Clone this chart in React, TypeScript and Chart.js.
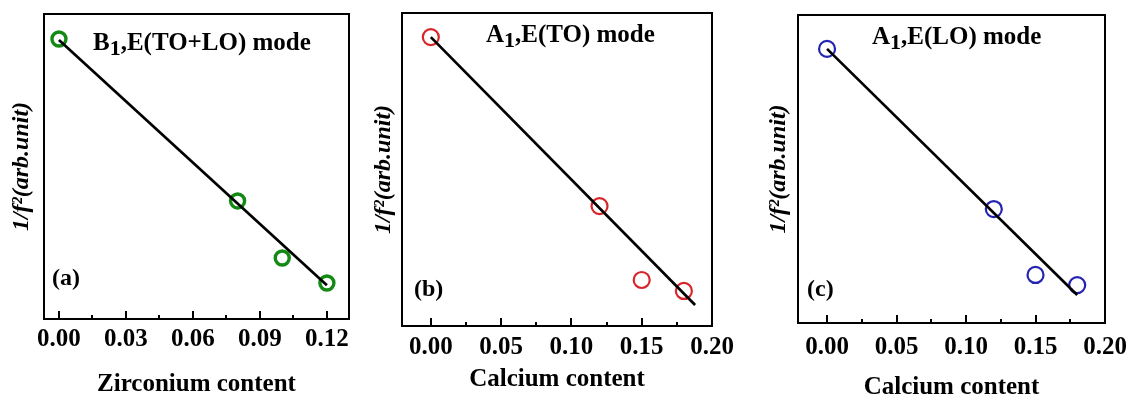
import React, { useEffect, useRef } from "react";
import { Chart, registerables } from "chart.js";

Chart.register(...registerables);

const W = 1131;
const H = 401;

// ---- data (1/f^2 in arbitrary units) ----
const zirconiumContent = [0, 0.08, 0.1, 0.12];
const panelAInvF2 = [0.918, 0.387, 0.2, 0.118];
const panelAFitX = [0, 0.12];
const panelAFitY = [0.915, 0.111];

const calciumContent = [0, 0.12, 0.15, 0.18];
const panelBInvF2 = [0.923, 0.383, 0.147, 0.112];
const panelBFitX = [0, 0.188];
const panelBFitY = [0.923, 0.067];

const panelCInvF2 = [0.89, 0.37, 0.156, 0.123];
const panelCFitX = [0, 0.18];
const panelCFitY = [0.89, 0.091];

// ---- tick labels ----
const zrMajorTicks = [0, 0.03, 0.06, 0.09, 0.12];
const zrMinorTicks = [0.015, 0.045, 0.075, 0.105];
const caMajorTicks = [0, 0.05, 0.1, 0.15, 0.2];
const caMinorTicks = [0.025, 0.075, 0.125, 0.175];

const SERIF = '"Liberation Serif", "Times New Roman", serif';

interface PanelCfg {
  id: string;
  x: number[];
  y: number[];
  fitX: number[];
  fitY: number[];
  major: number[];
  minor: number[];
  xMin: number;
  xMax: number;
  xTitle: string;
  modePrefix: string;
  modeSub: string;
  modeRest: string;
  letter: string;
  color: string;
  radius: number;
  borderW: number;
  box: { left: number; top: number; right: number; bottom: number };
  yTitleX: number;
  tickPad: number;
  titlePadBottom: number;
  modeDX: number;
  modeDY: number;
  letterDX: number;
  letterDY: number;
}

const panels: PanelCfg[] = [
  {
    id: "a",
    x: zirconiumContent,
    y: panelAInvF2,
    fitX: panelAFitX,
    fitY: panelAFitY,
    major: zrMajorTicks,
    minor: zrMinorTicks,
    xMin: -0.0067,
    xMax: 0.1299,
    xTitle: "Zirconium content",
    modePrefix: "B",
    modeSub: "1",
    modeRest: ",E(TO+LO) mode",
    letter: "(a)",
    color: "#138a13",
    radius: 7,
    borderW: 3.4,
    box: { left: 44, top: 14, right: 349, bottom: 319 },
    yTitleX: 22,
    tickPad: 6,
    titlePadBottom: 1,
    modeDX: 49,
    modeDY: 36,
    letterDX: 8,
    letterDY: 265,
  },
  {
    id: "b",
    x: calciumContent,
    y: panelBInvF2,
    fitX: panelBFitX,
    fitY: panelBFitY,
    major: caMajorTicks,
    minor: caMinorTicks,
    xMin: -0.0205,
    xMax: 0.2,
    xTitle: "Calcium content",
    modePrefix: "A",
    modeSub: "1",
    modeRest: ",E(TO) mode",
    letter: "(b)",
    color: "#d8252a",
    radius: 8,
    borderW: 2.2,
    box: { left: 402, top: 13, right: 712, bottom: 326 },
    yTitleX: 384,
    tickPad: 7,
    titlePadBottom: 6,
    modeDX: 84,
    modeDY: 29,
    letterDX: 12,
    letterDY: 277,
  },
  {
    id: "c",
    x: calciumContent,
    y: panelCInvF2,
    fitX: panelCFitX,
    fitY: panelCFitY,
    major: caMajorTicks,
    minor: caMinorTicks,
    xMin: -0.0209,
    xMax: 0.2,
    xTitle: "Calcium content",
    modePrefix: "A",
    modeSub: "1",
    modeRest: ",E(LO) mode",
    letter: "(c)",
    color: "#2424b0",
    radius: 8,
    borderW: 2.2,
    box: { left: 798, top: 15, right: 1105, bottom: 323 },
    yTitleX: 779,
    tickPad: 10,
    titlePadBottom: -2,
    modeDX: 74,
    modeDY: 29,
    letterDX: 9,
    letterDY: 275,
  },
];

function Panel({ cfg }: { cfg: PanelCfg }) {
  const ref = useRef<HTMLCanvasElement>(null);

  useEffect(() => {
    const canvas = ref.current;
    if (!canvas) return;
    const yTitleFont = 24;
    const padL = cfg.yTitleX - (yTitleFont * 1.2) / 2;

    const framePlugin = {
      id: "frame_" + cfg.id,
      afterDraw(chart: any) {
        const { ctx, chartArea: a, scales } = chart;
        const xs = scales.x;
        ctx.save();
        ctx.strokeStyle = "#000";
        ctx.lineWidth = 2;
        ctx.strokeRect(a.left, a.top, a.right - a.left, a.bottom - a.top);
        const drawTick = (v: number, len: number) => {
          const px = Math.round(xs.getPixelForValue(v));
          ctx.beginPath();
          ctx.moveTo(px, a.bottom);
          ctx.lineTo(px, a.bottom - len);
          ctx.stroke();
        };
        cfg.major.forEach((v) => drawTick(v, 8));
        cfg.minor.forEach((v) => drawTick(v, 4));

        ctx.fillStyle = "#000";
        ctx.textAlign = "left";
        ctx.textBaseline = "alphabetic";
        let x = a.left + cfg.modeDX;
        const y = a.top + cfg.modeDY;
        ctx.font = `bold 25px ${SERIF}`;
        ctx.fillText(cfg.modePrefix, x, y);
        x += ctx.measureText(cfg.modePrefix).width;
        ctx.font = `bold 22px ${SERIF}`;
        ctx.fillText(cfg.modeSub, x, y + 5);
        x += ctx.measureText(cfg.modeSub).width;
        ctx.font = `bold 25px ${SERIF}`;
        ctx.fillText(cfg.modeRest, x, y);

        ctx.font = `bold 24px ${SERIF}`;
        ctx.textBaseline = "middle";
        ctx.fillText(cfg.letter, a.left + cfg.letterDX, a.top + cfg.letterDY);
        ctx.restore();
      },
    };

    const chart = new Chart(canvas, {
      type: "scatter",
      data: {
        datasets: [
          {
            label: "fit",
            data: cfg.fitX.map((v, i) => ({ x: v, y: cfg.fitY[i] })),
            showLine: true,
            borderColor: "#000",
            borderWidth: 2.7,
            pointRadius: 0,
            fill: false,
          } as any,
          {
            label: "data",
            data: cfg.x.map((v, i) => ({ x: v, y: cfg.y[i] })),
            showLine: false,
            pointStyle: "circle",
            pointRadius: cfg.radius,
            pointBorderWidth: cfg.borderW,
            borderColor: cfg.color,
            pointBorderColor: cfg.color,
            backgroundColor: "rgba(0,0,0,0)",
            pointBackgroundColor: "rgba(0,0,0,0)",
          } as any,
        ],
      },
      options: {
        animation: false,
        responsive: false,
        maintainAspectRatio: false,
        events: [],
        layout: {
          autoPadding: false,
          padding: {
            left: padL,
            top: cfg.box.top,
            right: W - cfg.box.right,
            bottom: 0,
          },
        },
        plugins: {
          legend: { display: false },
          tooltip: { enabled: false },
        },
        scales: {
          x: {
            type: "linear",
            min: cfg.xMin,
            max: cfg.xMax,
            grid: { display: false, drawTicks: false },
            border: { display: false },
            afterBuildTicks: (s: any) => {
              s.ticks = cfg.major.map((v) => ({ value: v }));
            },
            ticks: {
              padding: cfg.tickPad,
              color: "#000",
              maxRotation: 0,
              autoSkip: false,
              font: { family: SERIF, size: 25, weight: "bold" },
              callback: (v: any) => Number(v).toFixed(2),
            },
            title: {
              display: true,
              text: cfg.xTitle,
              color: "#000",
              font: { family: SERIF, size: 25, weight: "bold" },
              padding: { top: 0, bottom: cfg.titlePadBottom },
            },
            afterFit: (s: any) => {
              s.height = H - cfg.box.bottom;
              s.paddingLeft = 0;
              s.paddingRight = 0;
            },
          },
          y: {
            type: "linear",
            min: 0,
            max: 1,
            grid: { display: false, drawTicks: false },
            border: { display: false },
            ticks: { display: false },
            title: {
              display: true,
              text: "1/f²(arb.unit)",
              color: "#000",
              font: { family: SERIF, size: yTitleFont, weight: "bold", style: "italic" },
              padding: { top: 0, bottom: 0 },
            },
            afterFit: (s: any) => {
              s.width = cfg.box.left - padL;
              s.paddingTop = 0;
              s.paddingBottom = 0;
            },
          },
        },
      } as any,
      plugins: [framePlugin],
    });
    return () => chart.destroy();
  }, [cfg]);

  return (
    <canvas
      ref={ref}
      width={W}
      height={H}
      style={{ position: "absolute", left: 0, top: 0, width: W, height: H }}
    />
  );
}

export default function App() {
  return (
    <div
      style={{
        position: "fixed",
        left: 0,
        top: 0,
        width: W,
        height: H,
        background: "#fff",
        overflow: "hidden",
      }}
    >
      {panels.map((p) => (
        <Panel key={p.id} cfg={p} />
      ))}
    </div>
  );
}
